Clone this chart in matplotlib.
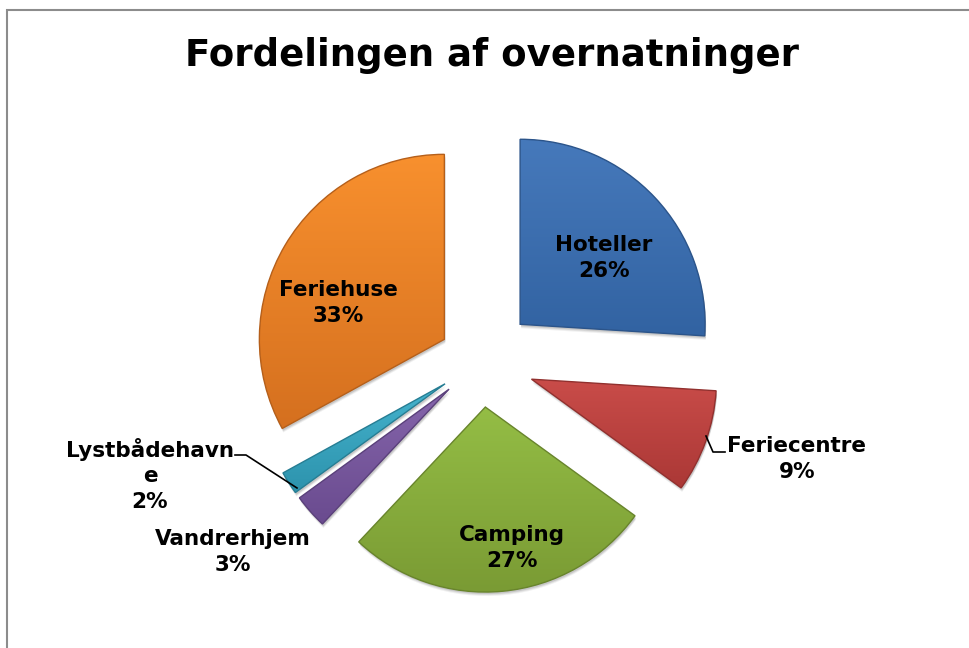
#!/usr/bin/env python3
import numpy as np
import matplotlib
matplotlib.use("Agg")
import matplotlib.pyplot as plt
from matplotlib.colors import to_rgb
from matplotlib.patches import Rectangle, Wedge

graphWidth = 969   # pixels
graphHeight = 648  # pixels

# data
labels = ["Hoteller", "Feriecentre", "Camping", "Vandrerhjem", "Lystbådehavne", "Feriehuse"]
shares = [26, 9, 27, 3, 2, 33]
label_text = ["Hoteller\n26%", "Feriecentre\n9%", "Camping\n27%",
              "Vandrerhjem\n3%", "Lystbådehavn\ne\n2%", "Feriehuse\n33%"]
explode = [0.29, 0.29, 0.25, 0.23, 0.23, 0.23]   # fraction of radius
top_colors = ["#4679bb", "#c94c49", "#94bd45", "#8565ab", "#45b3cd", "#f8902e"]
bottom_colors = ["#3263a2", "#ab3836", "#7a9b34", "#6a4b8f", "#2d93ad", "#d5701f"]

# label positions in pixels (x, y from top)
label_pos = [(604, 258), (797, 459), (512, 548), (233, 552), (150, 475), (338, 303)]


def darker(c, f=0.75):
    r, g, b = to_rgb(c)
    return (r * f, g * f, b * f)


def PiePlot():
    fig = plt.figure(figsize=(graphWidth / 100.0, graphHeight / 100.0), dpi=100)
    ax = fig.add_axes([0, 0, 1, 1])

    # chart frame (only left and top edges are inside the picture)
    fig.patches.append(Rectangle((7 / graphWidth, -1), 2, 2 - 10 / graphHeight,
                                 transform=fig.transFigure, fill=False,
                                 edgecolor="#8c8c8c", linewidth=1.5))

    centre = (481, graphHeight - 361)
    radius = 185
    wedges, _ = ax.pie(shares, explode=[e * radius for e in explode], startangle=90,
                       counterclock=False, center=centre, radius=radius, frame=True,
                       wedgeprops=dict(linewidth=0))

    for w, ct, cb in zip(wedges, top_colors, bottom_colors):
        # soft drop shadow
        for k, a in ((4, 0.06), (3, 0.08), (2, 0.10)):
            sh = Wedge((w.center[0] + 1, w.center[1] - k), w.r, w.theta1, w.theta2,
                       facecolor="black", edgecolor="none", alpha=a, zorder=0.5)
            ax.add_patch(sh)
        w.set_facecolor("none")
        bb = w.get_path().get_extents(w.get_transform() - ax.transData)
        t = np.linspace(0, 1, 64)[:, None]
        c1 = np.array(to_rgb(ct))
        c2 = np.array(to_rgb(cb))
        grad = (c1 * (1 - t) + c2 * t)[:, None, :].repeat(2, axis=1)
        im = ax.imshow(grad, extent=[bb.x0, bb.x1, bb.y0, bb.y1], origin="upper",
                       aspect="auto", zorder=1, interpolation="bilinear")
        im.set_clip_path(w)
        w.set_edgecolor(darker(cb, 0.85))
        w.set_linewidth(1.0)
        w.set_zorder(2)

    ax.set_xlim(0, graphWidth)
    ax.set_ylim(0, graphHeight)
    ax.set_aspect("equal")
    ax.axis("off")

    for txt, (x, y) in zip(label_text, label_pos):
        ax.text(x, graphHeight - y, txt, ha="center", va="center", fontsize=15.5,
                fontweight="bold", color="black", linespacing=1.32, zorder=5)

    # leader lines
    ax.plot([706, 713, 725], [graphHeight - 436, graphHeight - 452, graphHeight - 452],
            color="black", linewidth=1.2, zorder=4)
    ax.plot([235, 246, 297], [graphHeight - 455, graphHeight - 455, graphHeight - 488],
            color="black", linewidth=1.2, zorder=4)

    fig.text(492 / graphWidth, 1 - 55 / graphHeight, "Fordelingen af overnatninger",
             ha="center", va="center", fontsize=26.7, fontweight="bold")

    fig.savefig("out.png", dpi=100)
    plt.close("all")


if __name__ == "__main__":
    PiePlot()
